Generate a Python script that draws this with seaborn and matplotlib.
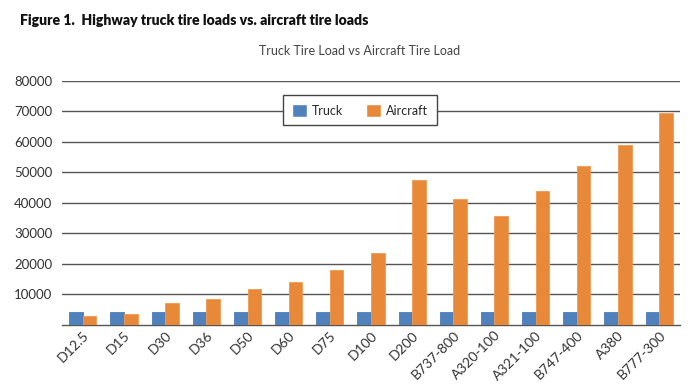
import pandas as pd
import matplotlib
matplotlib.use("Agg")
import matplotlib.pyplot as plt
import seaborn as sns

# Data
tires = ["D12.5", "D15", "D30", "D36", "D50", "D60", "D75", "D100", "D200",
         "B737-800", "A320-100", "A321-100", "B747-400", "A380", "B777-300"]
truck = [4200] * 15
aircraft = [3000, 3500, 7100, 8400, 11700, 14100, 17800, 23500, 47500,
            41300, 35500, 43800, 52000, 59000, 69400]
yticks = [10000, 20000, 30000, 40000, 50000, 60000, 70000, 80000]

df = pd.DataFrame({
    "Tire": tires * 2,
    "Load": truck + aircraft,
    "Vehicle": ["Truck"] * len(tires) + ["Aircraft"] * len(tires),
})

sns.set_style("white")
plt.rcParams["font.family"] = ["Lato", "DejaVu Sans"]

fig = plt.figure(figsize=(7, 3.89), dpi=100)
ax = fig.add_axes([0.089, 0.165, 0.882, 0.628])

sns.barplot(data=df, x="Tire", y="Load", hue="Vehicle",
            palette={"Truck": "#4F81BD", "Aircraft": "#E8893A"},
            saturation=1, width=0.66, ax=ax, zorder=3)

for bar, color in zip(ax.patches, ["#4A7CB8"] * 15 + ["#F09A50"] * 15):
    bar.set_edgecolor(color)
    bar.set_linewidth(0.6)

ax.set_ylim(0, 80000)
ax.set_yticks(yticks)
ax.set_yticklabels([str(v) for v in yticks], fontsize=9.5, color="#333333")
ax.yaxis.grid(True, color="#555555", linewidth=1.0, zorder=0)
ax.tick_params(axis="y", length=0, pad=7)
ax.tick_params(axis="x", length=0, pad=3)
plt.setp(ax.get_xticklabels(), rotation=45, ha="right", rotation_mode="anchor",
         fontsize=10, color="#333333")
ax.set_xlabel("")
ax.set_ylabel("")
for side in ["top", "left", "right"]:
    ax.spines[side].set_visible(False)
ax.spines["bottom"].set_color("#555555")
ax.spines["bottom"].set_linewidth(1.0)

leg = ax.legend(loc="center", bbox_to_anchor=(0.482, 0.878), ncol=2,
                fontsize=9, frameon=True, fancybox=False, handlelength=1.2,
                handleheight=1.2, columnspacing=1.8, borderpad=0.7,
                handletextpad=0.4)
leg.get_frame().set_edgecolor("#444444")
leg.get_frame().set_linewidth(1.0)
leg.get_frame().set_alpha(1)

fig.text(0.513, 0.858, "Truck Tire Load vs Aircraft Tire Load", ha="center",
         fontsize=9, color="#444444")
fig.text(0.029, 0.937, "Figure 1.  Highway truck tire loads vs. aircraft tire loads",
         ha="left", fontsize=10.1, fontweight="heavy", color="#111111")

fig.savefig("out.png", dpi=100)
